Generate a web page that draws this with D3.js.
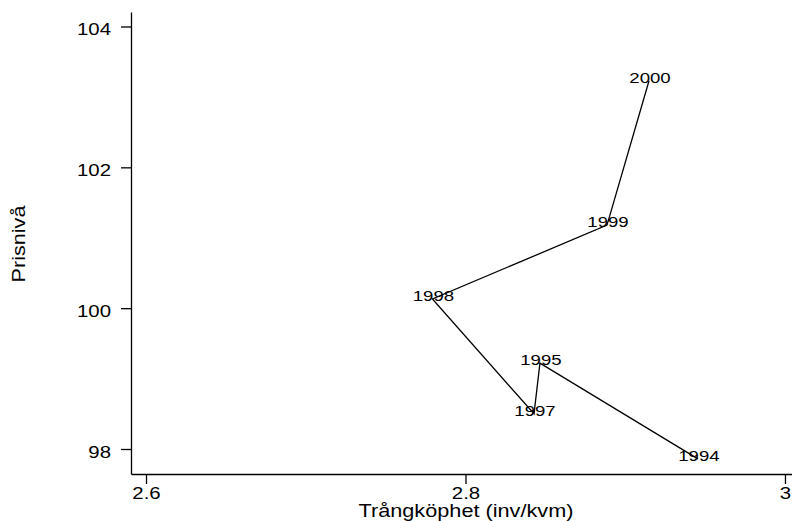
<!DOCTYPE html>
<html>
<head>
<meta charset="utf-8">
<script src="https://cdn.jsdelivr.net/npm/d3@7"></script>
<style>
  html, body { margin: 0; padding: 0; background: #fff; }
  svg { display: block; }
  text { font-family: "Liberation Sans", Arial, Helvetica, sans-serif; fill: #000; }
</style>
</head>
<body>
<svg id="chart" width="792" height="521"></svg>
<script>
// Data
const years  = ["1994", "1995", "1997", "1998", "1999", "2000"];
const crowd  = [2.9455, 2.8466, 2.8429, 2.7793, 2.8886, 2.9149]; // Trångköphet (inv/kvm)
const price  = [97.86, 99.22, 98.50, 100.13, 101.18, 103.23];    // Prisnivå
const xTicks = [2.6, 2.8, 3.0];
const yTicks = [98, 100, 102, 104];
const xTickLabels = ["2.6", "2.8", "3"];
const yTickLabels = ["98", "100", "102", "104"];
const xTitle = "Trångköphet (inv/kvm)";
const yTitle = "Prisnivå";

const svg = d3.select("#chart");
const SX = 1.2; // horizontal stretch of the original text rendering

const x = d3.scaleLinear().domain([2.5906, 3.0044]).range([131, 792]);
const y = d3.scaleLinear().domain([97.645, 104.206]).range([474, 12]);

// Axes
const xAxis = d3.axisBottom(x).tickValues(xTicks).tickSize(10)
  .tickFormat((d, i) => xTickLabels[i]).tickSizeOuter(0);
const yAxis = d3.axisLeft(y).tickValues(yTicks).tickSize(10)
  .tickFormat((d, i) => yTickLabels[i]).tickSizeOuter(0);

const gx = svg.append("g").attr("transform", "translate(0,474)").call(xAxis);
const gy = svg.append("g").attr("transform", "translate(131,0)").call(yAxis);

[gx, gy].forEach(g => {
  g.select(".domain").attr("stroke", "#000").attr("stroke-width", 1.3);
  g.selectAll(".tick line").attr("stroke", "#000").attr("stroke-width", 1.3);
  g.selectAll(".tick text").attr("font-size", 17)
    .attr("font-family", "'Liberation Sans', Arial, sans-serif").attr("fill", "#000");
});

// x tick labels: stretched, baseline ~499
gx.selectAll(".tick text")
  .attr("y", 0).attr("dy", 0)
  .attr("transform", `translate(0,25) scale(${SX},1)`);

// y tick labels: right aligned at ~111
gy.selectAll(".tick text")
  .attr("x", 0).attr("dy", 0)
  .attr("text-anchor", "end")
  .attr("transform", `translate(-20,8) scale(${SX},1)`);

// Axis titles
svg.append("text")
  .attr("text-anchor", "middle")
  .attr("font-size", 17.5)
  .attr("transform", `translate(466,517) scale(1.24,1)`)
  .text(xTitle);

svg.append("text")
  .attr("text-anchor", "middle")
  .attr("font-size", 18)
  .attr("transform", `translate(25,244) rotate(-90) scale(${SX},1)`)
  .text(yTitle);

// Connected line
const pts = years.map((yr, i) => ({ year: yr, cx: crowd[i], py: price[i] }));
const line = d3.line().x(d => x(d.cx)).y(d => y(d.py));

svg.append("path")
  .datum(pts)
  .attr("d", line)
  .attr("fill", "none")
  .attr("stroke", "#000")
  .attr("stroke-width", 1.3)
  .attr("stroke-linejoin", "miter");

// Marker labels (centred on the point)
svg.append("g").selectAll("text")
  .data(pts)
  .join("text")
  .attr("text-anchor", "middle")
  .attr("font-size", 15.5)
  .attr("transform", d => `translate(${x(d.cx) + 1},${y(d.py) + 2}) scale(${SX},1)`)
  .text(d => d.year);
</script>
</body>
</html>
